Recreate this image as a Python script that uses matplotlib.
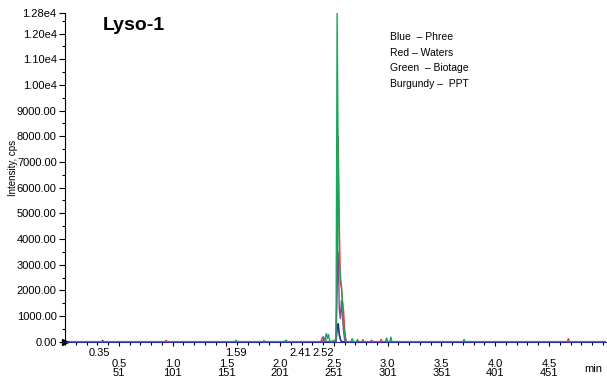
import numpy as np
import matplotlib
matplotlib.use('Agg')
import matplotlib.pyplot as plt
from matplotlib.ticker import MultipleLocator, FixedLocator
import matplotlib.transforms as mtransforms

plt.rcParams['font.family'] = ['Liberation Sans', 'DejaVu Sans']

# time (min) / intensity (cps) for each trace, zero baseline between listed points
green_t = [0.00, 1.58, 1.59, 1.60, 1.84, 1.85, 1.86, 2.04, 2.05, 2.06, 2.07, 2.41, 2.42, 2.43, 2.44, 2.45, 2.46, 2.47,
           2.52, 2.53, 2.54, 2.55, 2.56, 2.57, 2.58, 2.59, 2.60, 2.61, 2.62, 2.66, 2.67, 2.68, 2.71, 2.72, 2.73,
           2.98, 2.99, 3.00, 3.02, 3.03, 3.04, 3.70, 3.71, 3.72, 5.03]
green_y = [0, 0, 60, 0, 0, 50, 0, 0, 60, 40, 0, 0, 150, 320, 120, 280, 60, 0,
           80, 12800, 7000, 3200, 2600, 2200, 1500, 700, 250, 60, 0, 0, 120, 0, 0, 90, 0,
           0, 150, 0, 0, 180, 0, 0, 90, 0, 0]

red_t = [0.00, 0.93, 0.94, 0.95, 2.39, 2.40, 2.41, 2.52, 2.53, 2.54, 2.55, 2.56, 2.57, 2.58, 2.59, 2.60, 2.61, 2.62,
         2.76, 2.77, 2.78, 2.93, 2.94, 2.95, 4.67, 4.68, 4.69, 5.03]
red_y = [0, 0, 60, 0, 0, 80, 0, 0, 2500, 8000, 4800, 2300, 2100, 1600, 1200, 500, 100, 0,
         0, 80, 0, 0, 90, 0, 0, 120, 0, 0]

purple_t = [0.00, 2.38, 2.39, 2.40, 2.41, 2.42, 2.43, 2.52, 2.53, 2.54, 2.55, 2.56, 2.57, 2.58, 2.59, 2.60, 2.61,
            2.84, 2.85, 2.86, 5.03]
purple_y = [0, 0, 120, 200, 80, 150, 0, 0, 2200, 3500, 1300, 900, 1600, 1000, 400, 80, 0,
            0, 60, 0, 0]

blue_t = [0.00, 0.34, 0.35, 0.36, 2.52, 2.53, 2.54, 2.55, 2.56, 2.57, 5.03]
blue_y = [0, 0, 40, 0, 0, 500, 700, 300, 100, 0, 0]

x_major = [0.5, 1.0, 1.5, 2.0, 2.5, 3.0, 3.5, 4.0, 4.5]
x_labels = ['0.5\n51', '1.0\n101', '1.5\n151', '2.0\n201', '2.5\n251', '3.0\n301', '3.5\n351', '4.0\n401', '4.5\n451']
y_major = [0, 1000, 2000, 3000, 4000, 5000, 6000, 7000, 8000, 9000, 10000, 11000, 12000, 12800]
y_labels = ['0.00', '1000.00', '2000.00', '3000.00', '4000.00', '5000.00', '6000.00', '7000.00',
            '8000.00', '9000.00', '1.00e4', '1.10e4', '1.20e4', '1.28e4']
peak_labels = ['0.35', '1.59', '2.41', '2.52']
peak_label_x = [0.32, 1.59, 2.19, 2.40]
legend_lines = ['Blue  \u2013 Phree', 'Red \u2013 Waters', 'Green  \u2013 Biotage', 'Burgundy \u2013  PPT']

fig = plt.figure(figsize=(6.07, 3.77), dpi=100)
ax = fig.add_axes([65/607, 35/377, 541/607, 329/377])

ax.plot(blue_t, blue_y, color='#2b2f95', lw=1.2, zorder=1.5)
ax.plot(red_t, red_y, color='#ee3a3a', lw=1.0)
ax.plot(purple_t, purple_y, color='#9a3c9e', lw=1.0)
ax.plot(green_t, green_y, color='#19a85a', lw=1.0)

ax.set_xlim(0, 5.03)
ax.set_ylim(-10, 12800)

for s in ['top', 'right']:
    ax.spines[s].set_visible(False)
ax.spines['bottom'].set_color('#2b2f95')

ax.yaxis.set_major_locator(FixedLocator(y_major))
ax.set_yticklabels(y_labels)
ax.yaxis.set_minor_locator(MultipleLocator(500))
ax.xaxis.set_major_locator(FixedLocator(x_major))
ax.set_xticklabels(x_labels, linespacing=0.95)
ax.xaxis.set_minor_locator(MultipleLocator(0.1))
ax.tick_params(axis='y', which='major', length=4, width=0.8, labelsize=8, pad=2)
ax.tick_params(axis='y', which='minor', length=2, width=0.8)
ax.tick_params(axis='x', which='major', length=3, width=0.8, labelsize=8, pad=9)
ax.tick_params(axis='x', which='minor', length=2, width=0.8)

# small arrow at the origin
ax.plot([0], [0], marker='>', color='black', ms=4, clip_on=False)

trans = mtransforms.blended_transform_factory(ax.transData, ax.transAxes)
for lab, xp in zip(peak_labels, peak_label_x):
    ax.text(xp, -0.033, lab, transform=trans, ha='center', va='center', fontsize=8)

fig.text(593/607, 1 - 369/377, 'min', ha='center', va='center', fontsize=8)
fig.text(13/607, 1 - 168/377, 'Intensity, cps', rotation=90, ha='center', va='center', fontsize=7)
fig.text(103/607, 1 - 25/377, 'Lyso-1', fontsize=14, fontweight='bold', ha='left', va='center')
for i, line in enumerate(legend_lines):
    fig.text(390/607, 1 - (37 + 15.6 * i)/377, line, fontsize=7.5, ha='left', va='center')

fig.savefig('out.png', dpi=100)
